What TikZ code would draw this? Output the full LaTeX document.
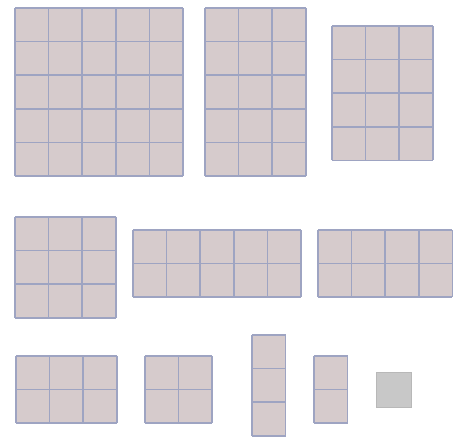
\documentclass[tikz,border=0pt]{standalone}
\definecolor{cellfill}{RGB}{214,203,204}
\definecolor{gridline}{RGB}{158,164,194}
\definecolor{greyfill}{RGB}{200,200,200}
\tikzset{
  blockfill/.style={fill=cellfill},
  blockline/.style={draw=gridline, line width=1.5pt},
  greyblock/.style={fill=greyfill, draw=greyfill!92!black, line width=0.6pt}
}
\newcommand{\cs}{33.6}
% #1 left x, #2 top y (pixels from top), #3 columns, #4 rows
\newcommand{\blk}[4]{%
  \fill[blockfill] (#1,-#2) rectangle ++(#3*\cs,-#4*\cs);
  \foreach \i in {0,...,#3}{\draw[blockline] (#1+\i*\cs,-#2) -- ++(0,-#4*\cs);}
  \foreach \j in {0,...,#4}{\draw[blockline] (#1,-#2-\j*\cs) -- ++(#3*\cs,0);}
}
\begin{document}
\begin{tikzpicture}[x=1pt,y=1pt]
\useasboundingbox (0,0) rectangle (455,-437);
\fill[white] (0,0) rectangle (455,-437);
\blk{15}{8}{5}{5}
\blk{205}{8}{3}{5}
\blk{332}{26}{3}{4}
\blk{15}{217}{3}{3}
\blk{133}{230}{5}{2}
\blk{318}{230}{4}{2}
\blk{16}{356}{3}{2}
\blk{145}{356}{2}{2}
\blk{252}{335}{1}{3}
\blk{314}{356}{1}{2}
\filldraw[greyblock] (376,-372) rectangle ++(35,-35);
\end{tikzpicture}
\end{document}
